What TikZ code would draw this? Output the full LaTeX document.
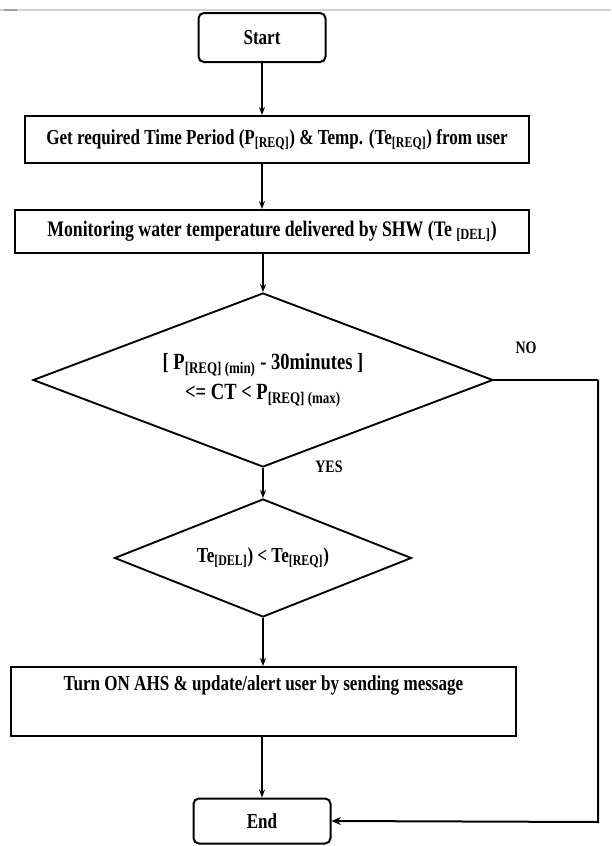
\documentclass[tikz,border=0pt]{standalone}
\usepackage{fontspec}
\setmainfont{Liberation Serif}
\usepackage{graphicx}
\usetikzlibrary{shapes.geometric,arrows.meta}
\newcommand{\vs}[1]{\scalebox{1}[1.25]{#1}}
\begin{document}
\begin{tikzpicture}[x=0.75pt,y=-0.75pt,
  box/.style={draw, line width=1.5pt, inner sep=0pt},
  rbox/.style={box, rounded corners=4pt},
  dia/.style={draw, diamond, line width=1.4pt, inner sep=0pt, align=center},
  conn/.style={line width=1.3pt, -{Stealth[length=6pt,width=4.5pt]}},
  txt/.style={font=\bfseries\fontsize{12.8}{22}\selectfont, inner sep=0pt},
  lbl/.style={font=\bfseries\fontsize{10.5}{12}\selectfont, inner sep=0pt}]
\useasboundingbox[fill=white] (0,0) rectangle (611,846);
% top page edge
\draw[gray!35, line width=0.9pt] (0,10) -- (611,10);
\draw[gray!75, line width=1.1pt] (4,10) -- (17,10);
% nodes
\node[rbox, minimum width=127*0.75pt, minimum height=49*0.75pt, txt] (start) at (262,37.5) {\vs{Start}};
\node[box, minimum width=504*0.75pt, minimum height=47*0.75pt, txt] (b2) at (277,139.5)
  {\vs{Get required Time Period (P\textsubscript{[REQ]}) \& Temp. (Te\textsubscript{[REQ]}) from user}};
\node[box, minimum width=514*0.75pt, minimum height=43*0.75pt, txt, font=\bfseries\fontsize{13.3}{22}\selectfont] (b3) at (272,231.5)
  {\vs{Monitoring water temperature delivered by SHW (Te \textsubscript{[DEL]})}};
\node[dia, minimum width=460*0.75pt, minimum height=174*0.75pt, shape aspect=2.64, txt, font=\bfseries\fontsize{13.9}{22.5}\selectfont] (d1) at (263,380)
  {\vs{[ P\textsubscript{[REQ] (min)} - 30minutes ]}\\ \vs{<= CT < P\textsubscript{[REQ] (max)}}};
\node[dia, minimum width=297*0.75pt, minimum height=118*0.75pt, shape aspect=2.52, txt] (d2) at (263,558)
  {\vs{Te\textsubscript{[DEL]}) < Te\textsubscript{[REQ]})}};
\node[box, minimum width=505*0.75pt, minimum height=69*0.75pt] (b4) at (263.5,701.5) {};
\node[txt] (t4) at (263.5,685) {\vs{Turn ON AHS \& update/alert user by sending message}};
\node[rbox, minimum width=137*0.75pt, minimum height=45*0.75pt, txt] (end) at (262,821) {\vs{End}};
% labels
\node[lbl] (no) at (526,348) {\vs{NO}};
\node[lbl] (yes) at (329,467) {\vs{YES}};
% corners of return path
\coordinate (c1) at (598,380);
\coordinate (c2) at (598,822);
% connectors
\draw[conn] (start.south) -- (start.south |- b2.north);
\draw[conn] (start.south |- b2.south) -- (start.south |- b3.north);
\draw[conn] (d1.north |- b3.south) -- (d1.north);
\draw[conn] (d1.south) -- (d2.north);
\draw[conn] (d2.south) -- (d2.south |- b4.north);
\draw[conn] (end.north |- b4.south) -- (end.north);
\draw[gray!40, line width=1.2pt, shift={(1.5,1.5)}] (d1.east) -- (c1) -- (c2);
\draw[line width=1pt] (d1.east) -- (c1);
\draw[line width=1.5pt, -{Stealth[length=7pt,width=6pt]}] (c1) -- (c2) -- (end.east);
\end{tikzpicture}
\end{document}
